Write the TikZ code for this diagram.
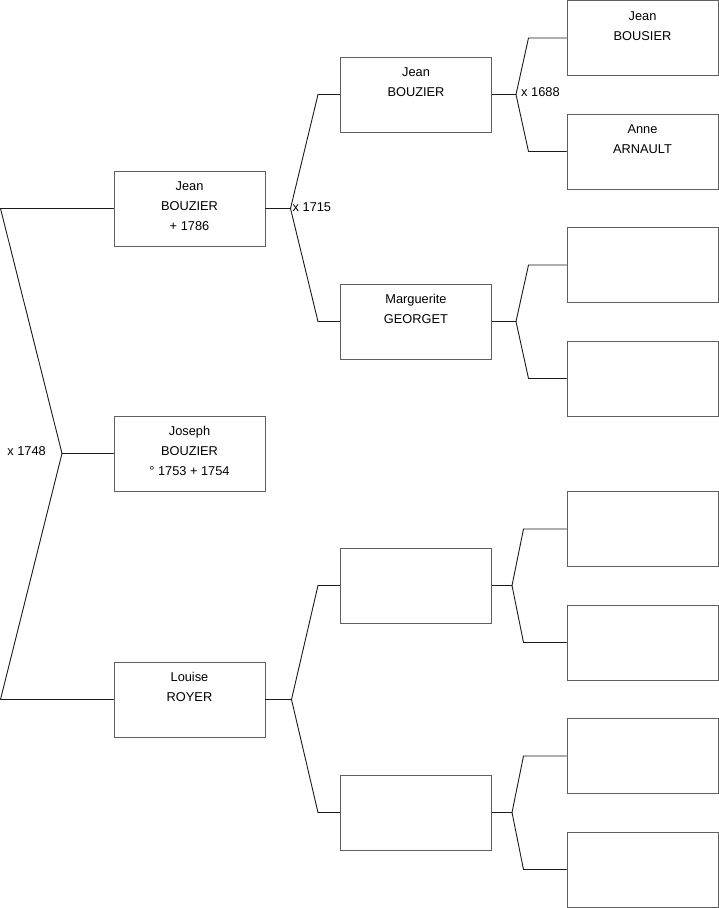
\documentclass[tikz,border=0pt]{standalone}
\usepackage{fontspec}
\setmainfont{Liberation Sans}
\usepackage{tikz}
\usetikzlibrary{calc,positioning}
\usepackage{xcolor}
\definecolor{cadre}{HTML}{5F5F5F}
\definecolor{trait}{HTML}{1A1A1A}

% fiche d'une personne : texte en haut de la case
\newcommand{\fiche}[1]{\parbox[c][75pt][t]{151pt}{\centering\rule{0pt}{19.5pt}#1}}

\begin{document}
\begin{tikzpicture}[x=1pt,y=-1pt,line cap=round,
    personne/.style={draw=cadre,line width=1pt,inner sep=0pt,
                     minimum width=151pt,minimum height=75pt,
                     font=\fontsize{12.8}{20}\selectfont},
    lien/.style={trait,line width=0.9pt},
    mariage/.style={font=\fontsize{12.8}{14}\selectfont,inner sep=0pt}]
  \useasboundingbox (0,0) rectangle (719,908);
  % generation 1
  \node[personne] (p1) at (189.5,208.5) {\fiche{Jean\\BOUZIER\\+ 1786}};
  \node[personne] (p2) at (189.5,453.5) {\fiche{Joseph\\BOUZIER\\° 1753 + 1754}};
  \node[personne] (p3) at (189.5,699.5) {\fiche{Louise\\ROYER}};
  % generation 2
  \node[personne] (q1) at (416,94.5)  {\fiche{Jean\\BOUZIER}};
  \node[personne] (q2) at (416,321.5) {\fiche{Marguerite\\GEORGET}};
  \node[personne] (q3) at (416,585.5) {};
  \node[personne] (q4) at (416,812.5) {};
  % generation 3
  \node[personne] (r1) at (642.5,38)    {\fiche{Jean\\BOUSIER}};
  \node[personne] (r2) at (642.5,151.5) {\fiche{Anne\\ARNAULT}};
  \foreach \n/\y in {3/265,4/378.5,5/529,6/642.5,7/756,8/869.5}{
    \node[personne] (r\n) at (642.5,\y) {};
  }
  % couple des parents de Joseph
  \coordinate (m0) at (62,453.5);
  \coordinate (b1) at (0.5,208.5);
  \coordinate (b3) at (0.5,699.5);
  \draw[lien] (p1.west) -- (b1) -- (m0) -- (b3) -- (p3.west);
  \draw[lien] (m0) -- (p2.west);
  \node[mariage,anchor=east] at ($(m0)+(-16,-2)$) {x 1748};
  % ascendants
  \foreach \pere/\a/\b/\d/\k in {p1/q1/q2/25/22, q1/r1/r2/24/38, q2/r3/r4/24/38,
                                 p3/q3/q4/26/22, q3/r5/r6/20/43, q4/r7/r8/20/43}{
    \coordinate (f\pere) at ($(\pere.east)+(\d,0)$);
    \draw[lien] (\pere.east) -- (f\pere);
    \draw[lien] (\a.west) -- ++(-\k,0) -- (f\pere)
                -- ($(\b.west)+(-\k,0)$) -- (\b.west);
  }
  \node[mariage,anchor=west] at ($(fp1)+(2,-1)$) {x 1715};
  \node[mariage,anchor=west] at ($(fq1)+(5,-2)$) {x 1688};
\end{tikzpicture}
\end{document}
